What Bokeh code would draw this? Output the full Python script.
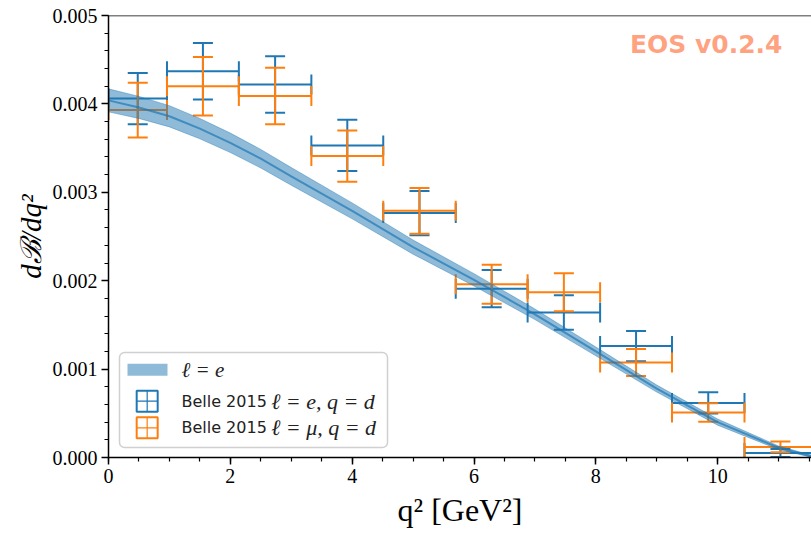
from bokeh.plotting import figure
from bokeh.models import (ColumnDataSource, Whisker, TeeHead, Label, BoxAnnotation, Span,
                          Range1d, FixedTicker)
from bokeh.embed import file_html
from bokeh.resources import INLINE

# ---------------- data ----------------
# theory prediction (l = e): central value and half-width of the uncertainty band
q2_theory = [0.0, 0.5, 1.0, 1.5, 2.0, 2.5, 3.0, 4.0, 5.0, 6.0, 7.0, 8.0, 9.0, 10.0, 11.0, 11.62]
br_central = [0.00404, 0.00396, 0.00386, 0.00372, 0.00356, 0.00338, 0.00318, 0.00279, 0.00238,
              0.00201, 0.00162, 0.00120, 0.00078, 0.00040, 0.00011, 0.0]
br_halfwidth = [0.00013, 0.000125, 0.00012, 0.000115, 0.00011, 0.000105, 0.00010, 0.00009,
                0.00008, 0.00007, 0.00006, 0.00005, 0.00004, 0.000035, 0.00002, 0.00001]

# Belle 2015 bins in q^2
q2_lo = [0.00, 0.96, 2.14, 3.33, 4.51, 5.70, 6.88, 8.07, 9.25, 10.44]
q2_hi = [0.96, 2.14, 3.33, 4.51, 5.70, 6.88, 8.07, 9.25, 10.44, 11.62]
# l = e
e_val = [0.00406, 0.00437, 0.00422, 0.00353, 0.002765, 0.00191, 0.00164, 0.00126, 0.000617, 0.000052]
e_err = [0.00029, 0.00032, 0.00032, 0.00029, 0.00025, 0.00021, 0.000195, 0.00017, 0.00012, 0.000045]
# l = mu
mu_val = [0.00393, 0.00420, 0.00409, 0.00341, 0.00279, 0.00196, 0.00187, 0.001075, 0.00051, 0.00012]
mu_err = [0.00031, 0.00033, 0.00032, 0.00029, 0.00026, 0.00022, 0.000215, 0.000153, 0.000105, 0.00006]

x_ticks = [0, 2, 4, 6, 8, 10]
x_tick_labels = ["0", "2", "4", "6", "8", "10"]
y_ticks = [0.0, 0.001, 0.002, 0.003, 0.004, 0.005]
y_tick_labels = ["0.000", "0.001", "0.002", "0.003", "0.004", "0.005"]

legend_labels = ["\u2113 = e", "\u2113 = e,  q = d", "\u2113 = \u03bc,  q = d"]
legend_prefix = "Belle 2015"
watermark = "EOS v0.2.4"

BLUE = "#1f77b4"
ORANGE = "#ff7f0e"
SERIF = "Liberation Serif"

# ---------------- figure ----------------
p = figure(width=811, height=534, output_backend="svg", toolbar_location=None,
           x_range=Range1d(0, 11.54), y_range=Range1d(0, 0.005),
           min_border_left=108, min_border_right=0, min_border_top=15, min_border_bottom=77)
p.outline_line_color = None
p.grid.visible = False
p.background_fill_color = "white"
p.border_fill_color = "white"

# error bars
def add_series(vals, errs, color):
    src = ColumnDataSource(dict(
        xc=[(a + b) / 2 for a, b in zip(q2_lo, q2_hi)],
        xlo=q2_lo, xhi=q2_hi, y=vals,
        ylo=[v - e for v, e in zip(vals, errs)],
        yhi=[v + e for v, e in zip(vals, errs)],
    ))
    def head():
        return TeeHead(size=20, line_color=color, line_width=2)
    p.add_layout(Whisker(source=src, base="xc", lower="ylo", upper="yhi", dimension="height",
                         line_color=color, line_width=2, lower_head=head(), upper_head=head()))
    p.add_layout(Whisker(source=src, base="y", lower="xlo", upper="xhi", dimension="width",
                         line_color=color, line_width=2, lower_head=head(), upper_head=head()))

add_series(e_val, e_err, BLUE)
add_series(mu_val, mu_err, ORANGE)

# theory band
band = ColumnDataSource(dict(
    x=q2_theory, c=br_central,
    lo=[c - h for c, h in zip(br_central, br_halfwidth)],
    hi=[c + h for c, h in zip(br_central, br_halfwidth)],
))
p.varea(x="x", y1="lo", y2="hi", source=band, fill_color=BLUE, fill_alpha=0.5)
p.line("x", "hi", source=band, line_color=BLUE, line_alpha=0.4, line_width=1)
p.line("x", "lo", source=band, line_color=BLUE, line_alpha=0.4, line_width=1)
p.line("x", "c", source=band, line_color=BLUE, line_alpha=0.7, line_width=2)

# top spine
p.add_layout(Span(location=0.005, dimension="width", line_color="black", line_width=1.5))

# axes
for ax in (p.xaxis[0], p.yaxis[0]):
    ax.axis_line_width = 1.5
    ax.axis_line_color = "black"
    ax.major_tick_line_width = 1.5
    ax.minor_tick_line_width = 1.2
    ax.major_tick_line_color = "black"
    ax.minor_tick_line_color = "black"
    ax.major_tick_in = 0
    ax.major_tick_out = 7
    ax.minor_tick_in = 0
    ax.minor_tick_out = 4
    ax.major_label_text_font = SERIF
    ax.major_label_text_font_size = "20px"
    ax.major_label_text_color = "black"
    ax.axis_label_text_font = SERIF
    ax.axis_label_text_color = "black"
    ax.major_label_standoff = 4

p.xaxis.ticker = FixedTicker(ticks=x_ticks, minor_ticks=[0.5 * i for i in range(24)])
p.xaxis.major_label_overrides = {t: l for t, l in zip(x_ticks, x_tick_labels)}
p.yaxis.ticker = FixedTicker(ticks=y_ticks, minor_ticks=[0.0002 * i for i in range(26)])
p.yaxis.major_label_overrides = {t: l for t, l in zip(y_ticks, y_tick_labels)}

p.xaxis.axis_label = "q\u00b2 [GeV\u00b2]"
p.xaxis.axis_label_text_font_style = "normal"
p.xaxis.axis_label_text_font_size = "32px"
p.xaxis.axis_label_standoff = 6
p.yaxis.axis_label = "d\u212c/dq\u00b2"
p.yaxis.axis_label_text_font_style = "italic"
p.yaxis.axis_label_text_font_size = "29px"
p.yaxis.axis_label_standoff = 3

# legend (drawn as annotations)
p.add_layout(BoxAnnotation(left=0.1806, right=4.580, bottom=0.0001131, top=0.0011878,
                           fill_color="white", fill_alpha=0.85, line_color="#d0d0d0",
                           line_alpha=1.0, line_width=1.5, border_radius=5, level="overlay"))
p.add_layout(BoxAnnotation(left=0.312, right=0.9685, bottom=0.000924, top=0.00106,
                           fill_color=BLUE, fill_alpha=0.5, line_color=None, level="overlay"))
row_y = [0.000992, 0.000637, 0.000336]
icon_x = 0.635          # centre of the icon
icon_hw = 0.1723        # half width of the icon box
icon_hh = 0.0001188     # half height of the icon box
for color, y in zip([BLUE, ORANGE], row_y[1:]):
    # square outline
    p.add_layout(BoxAnnotation(left=icon_x - icon_hw, right=icon_x + icon_hw,
                               bottom=y - icon_hh, top=y + icon_hh, fill_color=None,
                               line_color=color, line_alpha=1.0, line_width=2, level="overlay"))
    # cross inside
    p.add_layout(BoxAnnotation(left=icon_x, right=icon_x, bottom=y - icon_hh, top=y + icon_hh,
                               fill_color=None, line_color=color, line_alpha=1.0, line_width=1.2,
                               level="overlay"))
    p.add_layout(BoxAnnotation(left=icon_x - icon_hw, right=icon_x + icon_hw, bottom=y, top=y,
                               fill_color=None, line_color=color, line_alpha=1.0, line_width=1.2,
                               level="overlay"))
    p.add_layout(Label(x=1.198, y=y, text=legend_prefix, text_baseline="middle",
                       text_font="DejaVu Sans", text_font_size="16px", text_color="#222222",
                       level="overlay"))
p.add_layout(Label(x=1.198, y=row_y[0], text=legend_labels[0], text_baseline="middle",
                   text_font=SERIF, text_font_style="italic", text_font_size="21px",
                   text_color="#222222", level="overlay"))
for lab, y in zip(legend_labels[1:], row_y[1:]):
    p.add_layout(Label(x=2.67, y=y, text=lab, text_baseline="middle",
                       text_font=SERIF, text_font_style="italic", text_font_size="22px",
                       text_color="#222222", level="overlay"))

# watermark
p.add_layout(Label(x=11.064, y=0.004672, text=watermark, text_align="right", text_baseline="middle",
                   text_font="DejaVu Sans", text_font_style="bold", text_font_size="25px",
                   text_color="orangered", text_alpha=0.5))

open("out.html", "w").write(file_html(p, INLINE))
